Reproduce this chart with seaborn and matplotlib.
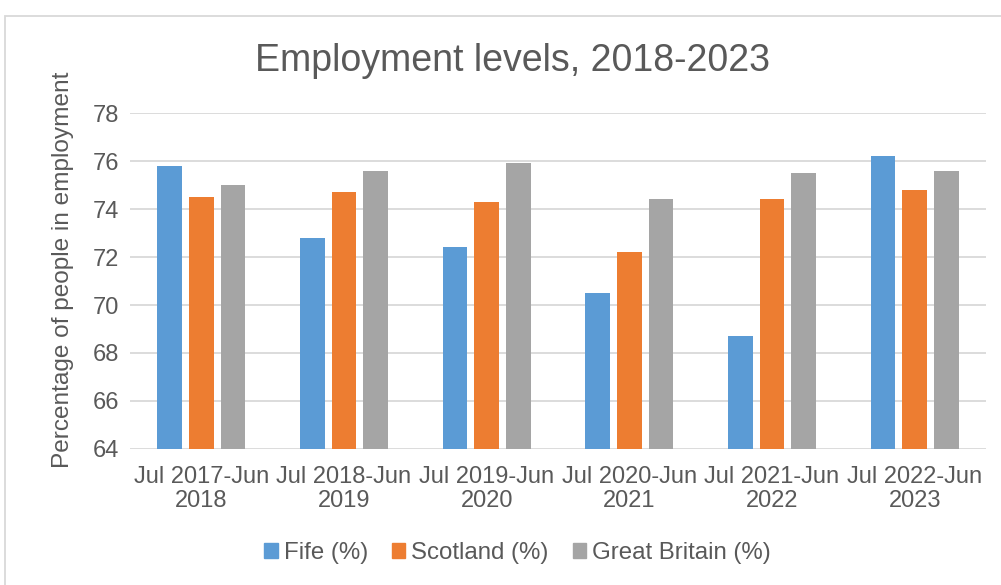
import matplotlib
matplotlib.use("Agg")
import matplotlib.pyplot as plt
import matplotlib.patches as mpatches
import seaborn as sns
import pandas as pd

# chart data
periods = ["Jul 2017-Jun\n2018", "Jul 2018-Jun\n2019", "Jul 2019-Jun\n2020",
           "Jul 2020-Jun\n2021", "Jul 2021-Jun\n2022", "Jul 2022-Jun\n2023"]
fife = [75.8, 72.8, 72.4, 70.5, 68.7, 76.2]
scotland = [74.5, 74.7, 74.3, 72.2, 74.4, 74.8]
great_britain = [75.0, 75.6, 75.9, 74.4, 75.5, 75.6]
series_names = ["Fife (%)", "Scotland (%)", "Great Britain (%)"]
colors = ["#5B9BD5", "#ED7D31", "#A5A5A5"]
y_ticks = [64, 66, 68, 70, 72, 74, 76, 78]

rows = []
for name, vals in zip(series_names, [fife, scotland, great_britain]):
    for p, v in zip(periods, vals):
        rows.append({"period": p, "series": name, "value": v})
df = pd.DataFrame(rows)

sns.set_theme(style="white")
plt.rcParams["font.family"] = ["Liberation Sans", "DejaVu Sans"]
text_col = "#595959"
grid_col = "#D9D9D9"

fig = plt.figure(figsize=(10.01, 5.85), dpi=100)
ax = fig.add_axes([0.1299, 0.2325, 0.985 - 0.1299, 0.8068 - 0.2325])

sns.barplot(data=df, x="period", y="value", hue="series", palette=colors,
            width=0.664, gap=0.22, ax=ax, legend=False, saturation=1,
            edgecolor="none", linewidth=0)

ax.set_ylim(64, 78)
ax.set_yticks(y_ticks)
ax.set_xlim(-0.5, len(periods) - 0.5)
ax.yaxis.grid(True, color=grid_col, linewidth=1.3)
ax.set_axisbelow(True)
for s in ax.spines.values():
    s.set_visible(False)
ax.tick_params(axis="both", length=0, labelsize=17, labelcolor=text_col)
ax.tick_params(axis="x", pad=12)
ax.tick_params(axis="y", pad=8)
ax.set_xlabel("")
ax.set_ylabel("")
for lab in ax.get_xticklabels():
    lab.set_linespacing(1.15)

fig.text(0.512, 0.895, "Employment levels, 2018-2023", ha="center", va="center",
         fontsize=27, color=text_col)
fig.text(0.063, 0.538, "Percentage of people in employment", ha="center", va="center",
         rotation=90, fontsize=17.6, color=text_col)

handles = [mpatches.Patch(color=c, label=n) for c, n in zip(colors, series_names)]
fig.legend(handles=handles, loc="center", bbox_to_anchor=(0.517, 0.055), ncol=3,
           frameon=False, fontsize=17.3, labelcolor=text_col, handlelength=0.55,
           handleheight=0.55, handletextpad=0.25, columnspacing=1.0)

# light outer chart border
fig.patches.append(mpatches.Rectangle((5 / 1001, -0.05), 1.1, 1 - 16 / 585 + 0.05,
                                      transform=fig.transFigure, fill=False,
                                      edgecolor=grid_col, linewidth=1.3))

fig.savefig("out.png", dpi=100)
